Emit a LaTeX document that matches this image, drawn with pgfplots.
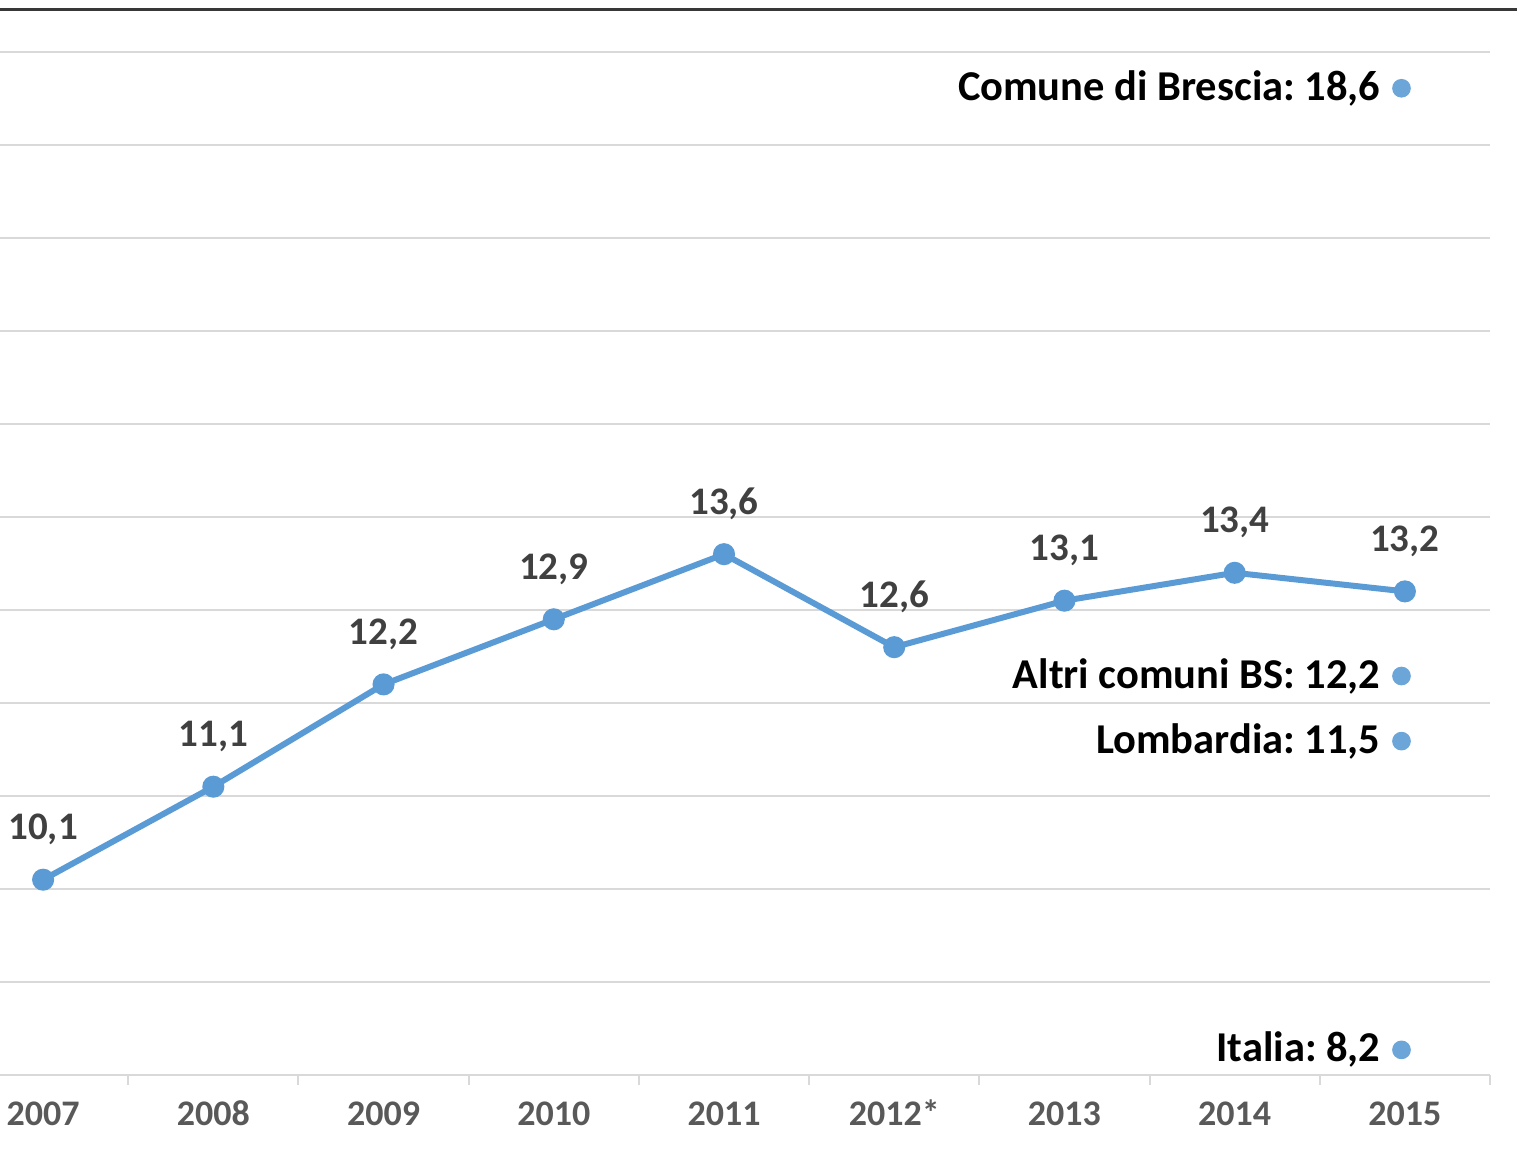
\documentclass[border=0pt]{standalone}
\usepackage{pgfplots}
\pgfplotsset{compat=1.18}
\usepackage{fontspec}
\setmainfont{Carlito}
\frenchspacing
\definecolor{linecol}{HTML}{5B9BD5}
\definecolor{dotcol}{HTML}{6CA6D9}
\definecolor{gridgray}{HTML}{D9D9D9}
\definecolor{lblgray}{HTML}{404040}
\definecolor{tickgray}{HTML}{595959}
\begin{document}
\begin{tikzpicture}[x=1pt,y=1pt]
\useasboundingbox (0,-24.9) rectangle (455.1,322.5);
\clip (0,-24.9) rectangle (455.1,322.5);
\begin{axis}[
  at={(-12.6pt,0pt)}, anchor=south west,
  scale only axis, width=459.6pt, height=318.06pt,
  xmin=-0.5, xmax=8.5, ymin=8, ymax=19.4,
  axis lines*=left,
  axis line style={-},
  x axis line style={gridgray, line width=0.6pt},
  y axis line style={draw=none},
  ytick={9,10,...,19}, yticklabels={},
  major y tick style={draw=none},
  ymajorgrids, major grid style={gridgray, line width=0.6pt},
  xtick={0,...,8},
  xticklabels={2007,2008,2009,2010,2011,2012*,2013,2014,2015},
  major x tick style={draw=none},
  major tick length=0pt,
  minor xtick={-0.5,0.5,...,8.5},
  minor tick length=3pt,
  tick align=outside,
  minor x tick style={gridgray, line width=0.6pt},
  xticklabel style={font=\fontsize{10.8}{12}\selectfont\bfseries, text=tickgray, anchor=base, inner sep=0pt, yshift=-15.3pt},
  clip=false,
]
\addplot[linecol, line width=1.8pt, mark=*, mark size=2.4pt, mark options={fill=linecol, draw=linecol},
  nodes near coords, point meta=explicit symbolic,
  every node near coord/.style={font=\fontsize{11.7}{13}\selectfont\bfseries, text=lblgray, anchor=center, yshift=15pt}]
  coordinates {
  (0,10.1) [10,1]
  (1,11.1) [11,1]
  (2,12.2) [12,2]
  (3,12.9) [12,9]
  (4,13.6) [13,6]
  (5,12.6) [12,6]
  (6,13.1) [13,1]
  (7,13.4) [13,4]
  (8,13.2) [13,2]
  };
\addplot[only marks, mark=*, mark size=2.6pt, mark options={fill=dotcol, draw=dotcol},
  nodes near coords, point meta=explicit symbolic,
  every node near coord/.style={font=\fontsize{12.75}{14}\selectfont\bfseries, text=black, anchor=east, xshift=-2.8pt}]
  coordinates {
  (7.98,18.61) [Comune di Brescia: 18,6]
  (7.98,12.29) [Altri comuni BS: 12,2]
  (7.98,11.59) [Lombardia: 11,5]
  (7.98,8.27) [Italia: 8,2]
  };
\end{axis}
\draw[color=black!78, line width=0.9pt] (0,319.5) -- (455.1,319.5);
\end{tikzpicture}
\end{document}
